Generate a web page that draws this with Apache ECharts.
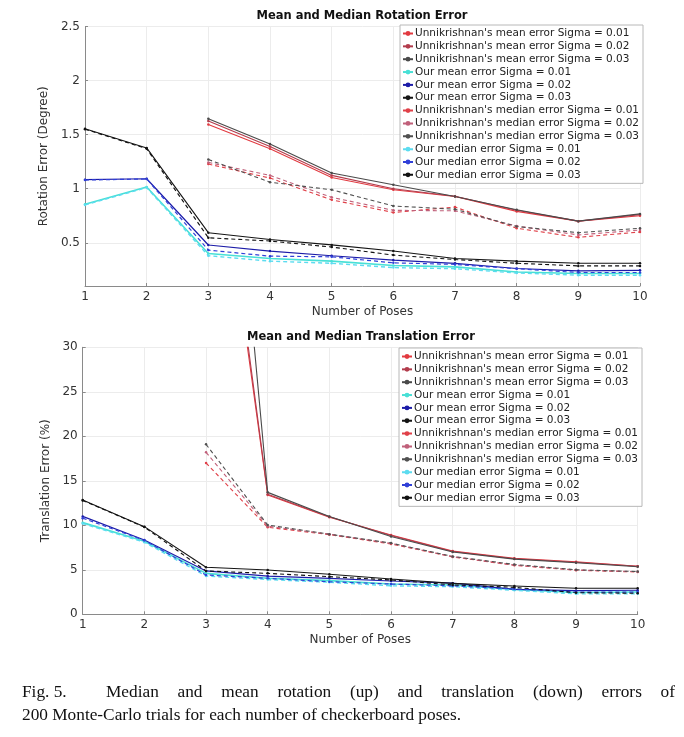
<!DOCTYPE html>
<html><head><meta charset="utf-8">
<script src="https://cdn.jsdelivr.net/npm/echarts@6/dist/echarts.min.js"></script>
<style>html,body{margin:0;padding:0;background:#fff}#c{width:684px;height:737px}</style>
</head><body><div id="c"></div>
<script>
// ---- data ----
const poses = ['1','2','3','4','5','6','7','8','9','10'];
const seriesNames = [
  "Unnikrishnan's mean error Sigma = 0.01",
  "Unnikrishnan's mean error Sigma = 0.02",
  "Unnikrishnan's mean error Sigma = 0.03",
  "Our mean error Sigma = 0.01",
  "Our mean error Sigma = 0.02",
  "Our mean error Sigma = 0.03",
  "Unnikrishnan's median error Sigma = 0.01",
  "Unnikrishnan's median error Sigma = 0.02",
  "Unnikrishnan's median error Sigma = 0.03",
  "Our median error Sigma = 0.01",
  "Our median error Sigma = 0.02",
  "Our median error Sigma = 0.03"
];
const rotTicks = ['0.5','1','1.5','2','2.5'];
const trTicks = ['0','5','10','15','20','25','30'];

// rotation error (degree)
const unnikMeanRot1 = [null,null,1.594,1.370,1.104,0.990,0.928,0.790,0.700,0.750];
const unnikMeanRot2 = [null,null,1.625,1.390,1.123,1.000,0.930,0.800,0.700,0.760];
const unnikMeanRot3 = [null,null,1.647,1.414,1.145,1.036,0.928,0.805,0.700,0.767];
const ourMeanRot1   = [0.857,1.015,0.400,0.355,0.330,0.290,0.277,0.230,0.215,0.215];
const ourMeanRot2   = [1.083,1.092,0.479,0.423,0.380,0.340,0.310,0.262,0.240,0.245];
const ourMeanRot3   = [1.554,1.377,0.593,0.530,0.480,0.423,0.355,0.330,0.310,0.310];
const unnikMedRot1  = [null,null,1.228,1.098,0.897,0.780,0.830,0.634,0.550,0.600];
const unnikMedRot2  = [null,null,1.243,1.123,0.920,0.800,0.795,0.655,0.572,0.618];
const unnikMedRot3  = [null,null,1.270,1.060,0.990,0.840,0.810,0.650,0.593,0.634];
const ourMedRot1    = [0.850,1.010,0.380,0.330,0.310,0.270,0.260,0.220,0.200,0.200];
const ourMedRot2    = [1.080,1.090,0.432,0.376,0.370,0.314,0.300,0.260,0.225,0.225];
const ourMedRot3    = [1.550,1.370,0.546,0.516,0.460,0.386,0.345,0.310,0.286,0.286];

// translation error (%)
const unnikMeanTr1 = [null,null,64.0,13.40,10.90,8.90,7.10,6.30,5.90,5.40];
const unnikMeanTr2 = [null,null,66.0,13.50,10.95,8.85,7.05,6.25,5.85,5.40];
const unnikMeanTr3 = [null,null,89.0,13.70,11.00,8.75,7.00,6.20,5.80,5.35];
const ourMeanTr1   = [10.30,8.20,4.60,4.05,3.78,3.40,3.30,2.80,2.45,2.50];
const ourMeanTr2   = [11.00,8.35,4.87,4.30,4.04,3.74,3.50,2.80,2.65,2.70];
const ourMeanTr3   = [12.84,9.85,5.28,4.98,4.50,3.97,3.48,3.18,2.92,2.92];
const unnikMedTr1  = [null,null,17.00,9.77,8.95,7.90,6.45,5.50,4.95,4.75];
const unnikMedTr2  = [null,null,18.20,9.90,9.00,7.97,6.47,5.54,4.98,4.79];
const unnikMedTr3  = [null,null,19.10,10.03,9.00,8.00,6.50,5.60,5.00,4.80];
const ourMedTr1    = [10.20,8.10,4.30,3.90,3.60,3.20,3.10,2.70,2.30,2.30];
const ourMedTr2    = [10.80,8.30,4.42,4.04,3.66,3.40,3.20,2.85,2.50,2.50];
const ourMedTr3    = [12.80,9.80,4.87,4.60,4.23,3.86,3.30,3.03,2.43,2.36];

// ---- styles ----
const colors = ['#e23a40','#b23c4c','#4a4a4a','#48e0d6','#1c1ca8','#151515',
                '#e04048','#c0607a','#505050','#5cdcf0','#3040d8','#111111'];
const dashed = [false,false,false,false,false,false,true,true,true,true,true,true];
const widths = [1.1,1.1,1.1,1.6,1.2,1.1,1.1,1.1,1.1,1.4,1.2,1.1];

const rotData = [unnikMeanRot1,unnikMeanRot2,unnikMeanRot3,ourMeanRot1,ourMeanRot2,ourMeanRot3,
                 unnikMedRot1,unnikMedRot2,unnikMedRot3,ourMedRot1,ourMedRot2,ourMedRot3];
const trData  = [unnikMeanTr1,unnikMeanTr2,unnikMeanTr3,ourMeanTr1,ourMeanTr2,ourMeanTr3,
                 unnikMedTr1,unnikMedTr2,unnikMedTr3,ourMedTr1,ourMedTr2,ourMedTr3];

const FONT = 'DejaVu Sans';
function mk(i, data, g){
  return {
    name: seriesNames[i], type:'line', xAxisIndex:g, yAxisIndex:g, data:data,
    symbol:'circle', symbolSize:2.5, showSymbol:true, clip:true, animation:false,
    connectNulls:false,
    itemStyle:{color:colors[i]},
    lineStyle:{color:colors[i], width:widths[i], type: dashed[i] ? [4,3] : 'solid'},
    emphasis:{disabled:true}
  };
}
const series = [];
rotData.forEach((d,i)=>series.push(mk(i,d,0)));
trData.forEach((d,i)=>series.push(mk(i,d,1)));

const axisCommonX = {
  type:'category', data:poses, boundaryGap:false,
  axisLine:{lineStyle:{color:'#8a8a8a'}},
  axisTick:{inside:true, length:3, lineStyle:{color:'#8a8a8a'}},
  axisLabel:{color:'#333', fontSize:12, fontFamily:FONT, margin:5},
  splitLine:{show:true, lineStyle:{color:'#ececec'}},
  name:'Number of Poses', nameLocation:'middle', nameGap:20,
  nameTextStyle:{color:'#333', fontSize:12, fontFamily:FONT}
};
function yAxis(g, min, max, name, gap, ticks){
  return {
    type:'value', gridIndex:g, min:min, max:max, splitNumber:5,
    axisLine:{show:true, lineStyle:{color:'#8a8a8a'}},
    axisTick:{show:true, inside:true, length:3, lineStyle:{color:'#8a8a8a'}},
    axisLabel:{color:'#333', fontSize:12, fontFamily:FONT, margin:5,
      formatter:(v)=>{ const s = String(+v.toFixed(2)); return ticks.indexOf(s)>=0 ? s : ''; }},
    splitLine:{show:true, lineStyle:{color:'#ececec'}},
    name:name, nameLocation:'middle', nameGap:gap,
    nameTextStyle:{color:'#333', fontSize:12, fontFamily:FONT}
  };
}
function legend(top, left){
  return {
    data: seriesNames, orient:'vertical', left:left, top:top,
    backgroundColor:'#fff', borderColor:'#b8b8b8', borderWidth:1,
    padding:[3,4,3,2], itemGap:1.85, itemWidth:10, itemHeight:6,
    textStyle:{fontSize:10.5, fontFamily:FONT, color:'#222', lineHeight:11, padding:[0,0,0,-3]},
    selectedMode:false
  };
}

// caption
const capFont = '17.3px "Liberation Serif"';
function justify(words, x0, x1, y){
  const cv = document.createElement('canvas').getContext('2d');
  cv.font = capFont;
  const ws = words.map(w=>cv.measureText(w).width);
  const total = ws.reduce((a,b)=>a+b,0);
  const gap = (x1-x0-total)/(words.length-1);
  const out = []; let x = x0;
  words.forEach((w,i)=>{ out.push({type:'text', x:x, y:y, style:{text:w, font:capFont, fill:'#111', textVerticalAlign:'middle'}}); x += ws[i]+gap; });
  return out;
}
const capLine1 = ['Median','and','mean','rotation','(up)','and','translation','(down)','errors','of'];
const capLine2 = '200 Monte-Carlo trials for each number of checkerboard poses.';

const graphics = [
  {type:'text', x:362, y:16, style:{text:'Mean and Median Rotation Error', font:'bold 11.5px "DejaVu Sans"', fill:'#111', textAlign:'center', textVerticalAlign:'middle'}},
  {type:'text', x:361, y:337, style:{text:'Mean and Median Translation Error', font:'bold 11.5px "DejaVu Sans"', fill:'#111', textAlign:'center', textVerticalAlign:'middle'}},
  {type:'text', x:22, y:692, style:{text:'Fig. 5.', font:capFont, fill:'#111', textVerticalAlign:'middle'}},
  ...justify(capLine1, 106, 675, 692),
  {type:'text', x:22, y:715, style:{text:capLine2, font:capFont, fill:'#111', textVerticalAlign:'middle'}}
];

const chart = echarts.init(document.getElementById('c'), null, {renderer:'canvas'});
chart.setOption({
  animation:false,
  backgroundColor:'#fff',
  grid:[
    {left:85, top:26.5, width:555, height:259.5, containLabel:false},
    {left:82.7, top:347.3, width:555, height:267, containLabel:false}
  ],
  xAxis:[Object.assign({gridIndex:0}, axisCommonX), Object.assign({gridIndex:1}, axisCommonX)],
  yAxis:[yAxis(0,0.1,2.5,'Rotation Error (Degree)',31,rotTicks), yAxis(1,0,30,'Translation Error (%)',27,trTicks)],
  legend:[legend(25,400), legend(348,399)],
  series:series,
  graphic:graphics
});
</script>
</body></html>
